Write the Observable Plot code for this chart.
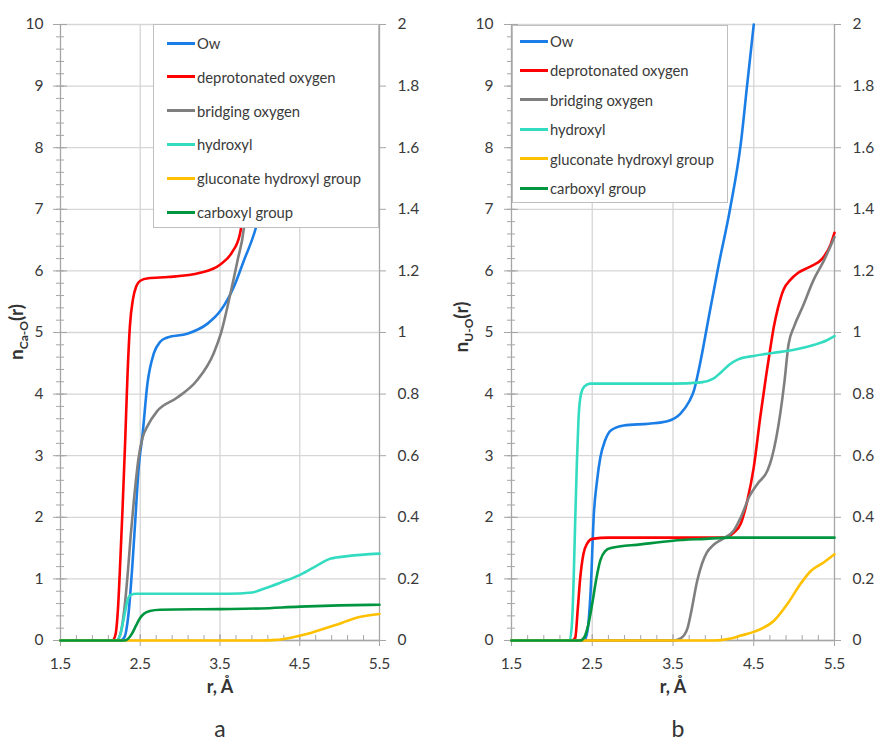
<!DOCTYPE html>
<html>
<head>
<meta charset="utf-8">
<script src="https://cdn.jsdelivr.net/npm/d3@7"></script>
<script src="https://cdn.jsdelivr.net/npm/@observablehq/plot@0.6"></script>
<style>
  body { margin: 0; background: #fff; font-family: Lato, "Open Sans", sans-serif; }
  #wrap { position: relative; width: 877px; height: 743px; background: #fff; }
  .panel { position: absolute; top: 0; }
  .legend { position: absolute; background: #fff; border: 1.3px solid #bfbfbf; box-sizing: border-box; }
  .item { position: absolute; display: flex; align-items: center; font-size: 14.8px; color: #3a3a3a; white-space: nowrap; transform: translateY(-50%); }
  .swatch { width: 28px; height: 3px; margin-right: 2px; }
  .cap { position: absolute; font-size: 23px; line-height: 23px; color: #333; transform: translate(-50%, -50%); }
</style>
</head>
<body>
<div id="wrap"></div>
<script>
// ---------- series ----------
const seriesNames = ["Ow", "deprotonated oxygen", "bridging oxygen", "hydroxyl", "gluconate hydroxyl group", "carboxyl group"];
const seriesColors = ["#1a7ee6", "#ff0000", "#7f7f7f", "#33dcc0", "#ffc000", "#00963f"];

// ---------- panel a : [r (Å), n_Ca-O(r)] ----------
const aOw = [[1.5,0],[2.25,0],[2.3,0.05],[2.35,0.4],[2.4,1.2],[2.44,2.0],[2.48,2.8],[2.53,3.36],[2.59,4.17],[2.67,4.66],[2.75,4.85],[2.84,4.92],[3.09,4.98],[3.34,5.14],[3.51,5.36],[3.67,5.73],[3.8,6.17],[3.95,6.7],[4.1,7.6],[4.3,9.0]];
const aDeprot = [[1.5,0],[2.15,0],[2.19,0.1],[2.22,0.5],[2.25,1.3],[2.28,2.2],[2.31,3.2],[2.34,4.3],[2.37,5.1],[2.41,5.55],[2.45,5.75],[2.5,5.84],[2.6,5.88],[2.85,5.9],[3.25,5.97],[3.5,6.1],[3.65,6.3],[3.75,6.6],[3.82,7.2],[3.9,8.2],[3.98,9.2]];
const aBridging = [[1.5,0],[2.2,0],[2.25,0.1],[2.3,0.5],[2.35,1.2],[2.38,1.7],[2.42,2.27],[2.48,2.97],[2.53,3.3],[2.59,3.48],[2.71,3.72],[2.96,3.94],[3.21,4.22],[3.42,4.66],[3.51,4.98],[3.63,5.63],[3.72,6.17],[3.8,6.7],[3.88,8],[3.94,9]];
const aHydroxyl = [[1.5,0],[2.2,0],[2.25,0.1],[2.3,0.4],[2.34,0.65],[2.38,0.74],[2.45,0.76],[3.0,0.76],[3.6,0.76],[3.9,0.78],[4.05,0.84],[4.26,0.94],[4.51,1.07],[4.72,1.22],[4.89,1.33],[5.1,1.37],[5.5,1.41]];
const aGluconate = [[1.5,0],[4.0,0],[4.2,0.01],[4.4,0.05],[4.6,0.11],[4.8,0.19],[4.95,0.25],[5.1,0.32],[5.25,0.38],[5.5,0.43]];
const aCarboxyl = [[1.5,0],[2.3,0],[2.35,0.03],[2.4,0.12],[2.45,0.25],[2.5,0.37],[2.55,0.44],[2.62,0.48],[2.75,0.5],[3.5,0.51],[4.0,0.52],[4.5,0.55],[5.0,0.57],[5.5,0.58]];

// ---------- panel b : [r (Å), n_U-O(r)] ----------
const bOw = [[1.5,0],[2.4,0],[2.44,0.15],[2.48,0.8],[2.52,2.06],[2.56,2.6],[2.6,2.97],[2.66,3.25],[2.73,3.41],[2.89,3.49],[3.2,3.52],[3.43,3.56],[3.59,3.68],[3.7,3.88],[3.76,4.06],[3.82,4.4],[3.88,4.8],[3.95,5.3],[4.06,6.06],[4.21,7.03],[4.34,8.07],[4.42,9.04],[4.5,10]];
const bDeprot = [[1.5,0],[2.25,0],[2.29,0.05],[2.32,0.5],[2.35,1.0],[2.39,1.4],[2.44,1.58],[2.5,1.65],[2.7,1.67],[4.13,1.67],[4.25,1.75],[4.34,1.9],[4.42,2.27],[4.5,2.81],[4.58,3.62],[4.65,4.27],[4.7,4.7],[4.75,5.1],[4.8,5.4],[4.87,5.7],[4.95,5.85],[5.05,5.97],[5.2,6.07],[5.35,6.2],[5.45,6.42],[5.5,6.62]];
const bBridging = [[1.5,0],[3.5,0],[3.6,0.04],[3.68,0.2],[3.72,0.43],[3.8,0.97],[3.86,1.25],[3.92,1.43],[4.0,1.55],[4.13,1.66],[4.25,1.78],[4.34,2.0],[4.45,2.35],[4.55,2.55],[4.67,2.76],[4.72,2.95],[4.78,3.3],[4.83,3.7],[4.88,4.2],[4.93,4.8],[5.0,5.1],[5.1,5.4],[5.24,5.85],[5.37,6.17],[5.5,6.55]];
const bHydroxyl = [[1.5,0],[2.22,0],[2.25,0.3],[2.27,1.0],[2.29,2.0],[2.31,2.9],[2.33,3.6],[2.36,4.0],[2.4,4.12],[2.47,4.17],[3.0,4.17],[3.5,4.17],[3.85,4.19],[4.0,4.25],[4.1,4.36],[4.2,4.48],[4.3,4.56],[4.5,4.62],[4.75,4.67],[5.0,4.72],[5.25,4.8],[5.4,4.87],[5.5,4.94]];
const bGluconate = [[1.5,0],[4.0,0],[4.2,0.03],[4.34,0.08],[4.54,0.16],[4.75,0.32],[4.92,0.6],[5.08,0.92],[5.2,1.12],[5.37,1.27],[5.5,1.4]];
const bCarboxyl = [[1.5,0],[2.35,0],[2.4,0.05],[2.45,0.25],[2.5,0.6],[2.55,1.0],[2.6,1.3],[2.66,1.45],[2.73,1.5],[3.1,1.56],[3.5,1.62],[3.9,1.65],[4.2,1.67],[5.5,1.67]];

// ---------- ticks ----------
const xTicks = [1.5, 2.5, 3.5, 4.5, 5.5];
const xTickLabels = ["1.5", "2.5", "3.5", "4.5", "5.5"];
const xGrid = [2.5, 3.5, 4.5];
const xMinorTicks = [1.5,1.7,1.9,2.1,2.3,2.5,2.7,2.9,3.1,3.3,3.5,3.7,3.9,4.1,4.3,4.5,4.7,4.9,5.1,5.3,5.5];
const yTicks = [0,1,2,3,4,5,6,7,8,9,10];
const yLeftLabels = ["0","1","2","3","4","5","6","7","8","9","10"];
const yRightLabels = ["0","0.2","0.4","0.6","0.8","1","1.2","1.4","1.6","1.8","2"];
const yMinorTicks = d3.range(0, 51).map(i => i / 5);

const panelCaptions = ["a", "b"];
const yTitleMain = "n";
const yTitleSubs = ["Ca-O", "U-O"];
const yTitleTail = "(r)";
const xTitle = "r, Å";

const gridColor = "#d6d6d6";
const axisColor = "#a6a6a6";
const labelColor = "#3a3a3a";

function buildPanel(opts) {
  const seriesData = opts.series;
  const marks = [
    Plot.ruleY(yTicks, {stroke: gridColor, strokeWidth: 1.3}),
    Plot.ruleX(xGrid, {stroke: gridColor, strokeWidth: 1.3}),
    Plot.ruleY([0], {stroke: axisColor, strokeWidth: 1.3}),
    Plot.ruleX([1.5, 5.5], {stroke: axisColor, strokeWidth: 1.3}),
    Plot.ruleY(yMinorTicks, {x1: 1.5, x2: 1.5, insetLeft: -4, insetRight: -4, stroke: axisColor, strokeWidth: 1}),
    Plot.ruleY(yTicks, {x1: 1.5, x2: 1.5, insetLeft: -7, insetRight: -7, stroke: axisColor, strokeWidth: 1}),
    Plot.ruleY(yTicks, {x1: 5.5, x2: 5.5, insetLeft: 0, insetRight: -7, stroke: axisColor, strokeWidth: 1}),
    Plot.ruleX(xMinorTicks, {y1: 0, y2: 0, insetTop: -5, insetBottom: -1, stroke: axisColor, strokeWidth: 1}),
    Plot.ruleX(xTicks, {y1: 0, y2: 0, insetTop: -6, insetBottom: -6, stroke: axisColor, strokeWidth: 1}),
  ];
  seriesData.forEach((pts, i) => {
    marks.push(Plot.line(pts, {x: d => d[0], y: d => d[1], stroke: seriesColors[i], strokeWidth: 2.6, curve: "monotone-x"}));
  });
  marks.push(
    Plot.text(yTicks, {x: 1.5, y: d => d, text: yLeftLabels, textAnchor: "end", dx: opts.leftDx, fill: labelColor, fontSize: 15.5}),
    Plot.text(yTicks, {x: 5.5, y: d => d, text: yRightLabels, textAnchor: "start", dx: 18, fill: labelColor, fontSize: 15.5}),
    Plot.text(xTicks, {x: d => d, y: 0, text: xTickLabels, dy: 24, fill: labelColor, fontSize: 15.5}),
    Plot.text([xTitle], {frameAnchor: "bottom", text: d => d, dy: 47, lineAnchor: "middle", fontWeight: "bold", fontSize: 18, fill: "#333"})
  );
  const svg = Plot.plot({
    width: opts.width, height: 700,
    marginLeft: opts.ml, marginRight: opts.mr, marginTop: 24, marginBottom: 60,
    x: {domain: [1.5, 5.5], axis: null},
    y: {domain: [0, 10], axis: null},
    style: {fontFamily: "Lato, 'Open Sans', sans-serif", background: "transparent", overflow: "visible"},
    marks
  });
  const t = d3.select(svg).append("text")
    .attr("transform", `translate(${opts.titleX},${opts.titleY}) rotate(-90)`)
    .attr("text-anchor", "middle")
    .attr("font-weight", "bold")
    .attr("font-size", 19)
    .attr("fill", "#333")
    .attr("font-family", "Lato, sans-serif");
  t.append("tspan").text(yTitleMain);
  t.append("tspan").attr("dy", 5).attr("font-size", 12).text(opts.sub);
  t.append("tspan").attr("dy", -5).text(yTitleTail);
  return svg;
}

const wrap = document.getElementById("wrap");

function addPanel(left, svg) {
  const d = document.createElement("div");
  d.className = "panel";
  d.style.left = left + "px";
  d.appendChild(svg);
  wrap.appendChild(d);
}

function addLegend(box) {
  const lg = document.createElement("div");
  lg.className = "legend";
  lg.style.left = box.left + "px";
  lg.style.top = box.top + "px";
  lg.style.width = box.width + "px";
  lg.style.height = box.height + "px";
  seriesNames.forEach((name, i) => {
    const it = document.createElement("div");
    it.className = "item";
    it.style.left = box.padLeft + "px";
    it.style.top = (box.first + i * box.step) + "px";
    const sw = document.createElement("div");
    sw.className = "swatch";
    sw.style.background = seriesColors[i];
    const tx = document.createElement("span");
    tx.textContent = name;
    it.appendChild(sw);
    it.appendChild(tx);
    lg.appendChild(it);
  });
  wrap.appendChild(lg);
}

function addCaption(text, x, y) {
  const c = document.createElement("div");
  c.className = "cap";
  c.style.left = x + "px";
  c.style.top = y + "px";
  c.textContent = text;
  wrap.appendChild(c);
}

addPanel(0, buildPanel({
  series: [aOw, aDeprot, aBridging, aHydroxyl, aGluconate, aCarboxyl],
  width: 438, ml: 60, mr: 59, leftDx: -17, sub: yTitleSubs[0], titleX: 23, titleY: 332
}));
addPanel(440, buildPanel({
  series: [bOw, bDeprot, bBridging, bHydroxyl, bGluconate, bCarboxyl],
  width: 437, ml: 71, mr: 43, leftDx: -18, sub: yTitleSubs[1], titleX: 28, titleY: 327
}));

addLegend({left: 153, top: 24, width: 226, height: 204, padLeft: 13, first: 18, step: 33.8});
addLegend({left: 512, top: 25, width: 216, height: 178, padLeft: 7, first: 15, step: 29.4});

addCaption(panelCaptions[0], 220, 728);
addCaption(panelCaptions[1], 678, 728);
</script>
</body>
</html>
